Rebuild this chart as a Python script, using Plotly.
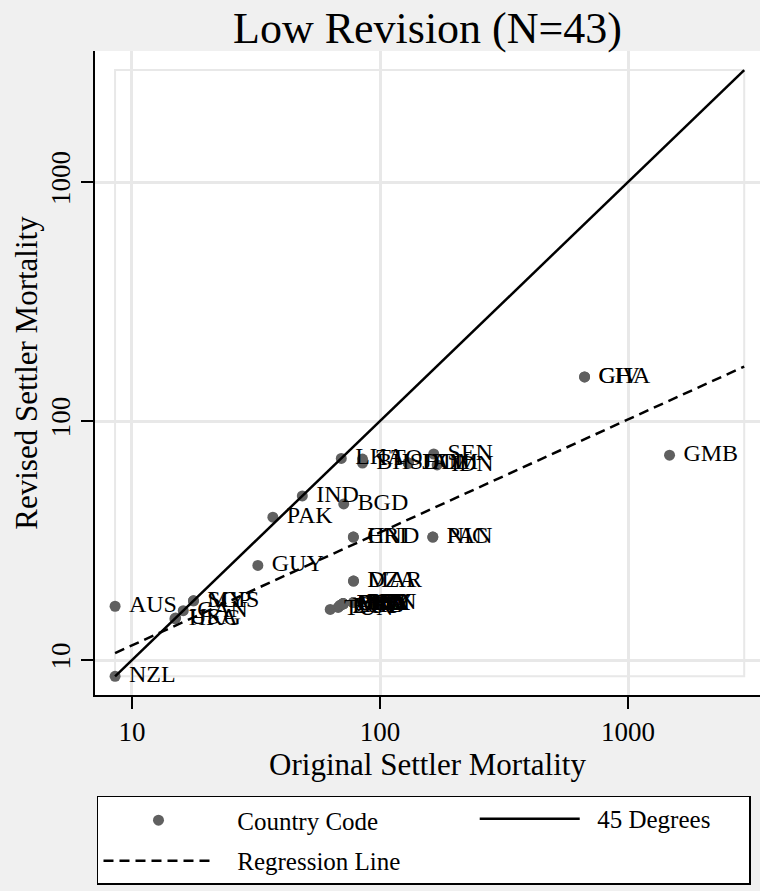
import plotly.graph_objects as go

countries = ["NZL", "AUS", "USA", "HKG", "CAN", "SGP", "MYS", "GUY", "PAK", "IND",
             "BGD", "LKA", "TTO", "BHS", "DOM", "JAM", "HTI", "SEN", "IDN", "GHA",
             "CIV", "GMB", "CRI", "HND", "PAN", "NIC", "DZA", "MAR", "TUN", "EGY",
             "ARG", "CHL", "BOL", "BRA", "COL", "ECU", "GTM", "MEX", "PER", "URY",
             "SLV", "PRY", "VEN"]
original_mortality = [8.55, 8.55, 15.0, 14.9, 16.1, 17.7, 17.7, 32.18, 36.99, 48.63,
                      71.41, 69.8, 85.0, 85.0, 130.0, 130.0, 130.0, 164.66, 170.0, 668.0,
                      668.0, 1470.0, 78.1, 78.1, 163.3, 163.3, 78.2, 78.2, 63.0, 67.8,
                      68.9, 68.9, 71.0, 71.0, 71.0, 71.0, 71.0, 71.0, 71.0, 71.0,
                      78.1, 78.1, 78.1]
revised_mortality = [8.55, 16.8, 15.0, 14.9, 16.1, 17.7, 17.7, 24.9, 39.6, 48.63,
                     45.0, 69.8, 69.3, 66.7, 66.7, 66.7, 66.7, 72.8, 65.5, 153.0,
                     153.0, 72.0, 32.7, 32.7, 32.7, 32.7, 21.4, 21.4, 16.3, 16.6,
                     16.9, 16.9, 17.2, 17.2, 17.2, 17.2, 17.2, 17.2, 17.2, 17.2,
                     17.4, 17.4, 17.4]

line45_x = [8.55, 2940]
line45_y = [8.55, 2940]
reg_x = [8.55, 2940]
reg_y = [10.7, 169.0]

tick_vals = [10, 100, 1000]
tick_text = ["10", "100", "1000"]

SERIF = "Liberation Serif, Times New Roman, serif"
NB = "\u00a0"

fig = go.Figure()
fig.add_trace(go.Scatter(
    x=original_mortality, y=revised_mortality, text=[NB + c for c in countries],
    mode="markers+text", textposition="middle right",
    marker=dict(size=11, color="#606060"),
    textfont=dict(family=SERIF, size=24, color="black"),
    name=NB * 3 + "Country Code", legend="legend", legendgroup="g1"))
fig.add_trace(go.Scatter(
    x=line45_x, y=line45_y, mode="lines",
    line=dict(color="black", width=2.5),
    name=NB * 2 + "45 Degrees", legend="legend2"))
fig.add_trace(go.Scatter(
    x=reg_x, y=reg_y, mode="lines",
    line=dict(color="black", width=2.5, dash="10px,6px"),
    name=NB * 3 + "Regression Line" + NB * 55, legend="legend", legendgroup="g2"))

fig.add_shape(type="rect", xref="x", yref="y", x0=8.55, x1=2940, y0=8.55, y1=2940,
              line=dict(color="#e8e8e8", width=2), layer="below")

axis_common = dict(
    type="log", tickvals=tick_vals, ticktext=tick_text, automargin=False,
    showgrid=True, gridcolor="#e8e8e8", gridwidth=2.5,
    showline=True, linecolor="black", linewidth=1.5,
    ticks="outside", ticklen=12, tickcolor="black", tickwidth=1.5,
    zeroline=False, tickfont=dict(family=SERIF, size=27, color="black"),
)

legend_font = dict(family=SERIF, size=25, color="black")

fig.update_layout(
    width=760, height=891,
    margin=dict(l=95, r=0, t=51, b=196),
    paper_bgcolor="#f0f0f0", plot_bgcolor="white",
    title=dict(text="Low Revision (N=43)", x=0.5, xref="paper", y=0.969, yref="container",
               xanchor="center", yanchor="middle",
               font=dict(family=SERIF, size=44, color="black")),
    xaxis=dict(axis_common, range=[0.851, 3.532],
               title=dict(text="Original Settler Mortality", standoff=0,
                          font=dict(family=SERIF, size=31, color="black"))),
    yaxis=dict(axis_common, range=[0.854, 3.548], tickangle=-90,
               title=dict(text="Revised Settler Mortality", standoff=0,
                          font=dict(family=SERIF, size=31, color="black"))),
    showlegend=True,
    legend=dict(orientation="v", x=0.003, y=-0.1568, xanchor="left", yanchor="top",
                traceorder="grouped", tracegroupgap=5,
                bgcolor="white", bordercolor="black", borderwidth=1.5,
                itemwidth=110, font=legend_font),
    legend2=dict(orientation="v", x=0.571, y=-0.1568, xanchor="left", yanchor="top",
                 bgcolor="rgba(0,0,0,0)", borderwidth=0,
                 itemwidth=100, font=legend_font),
)

fig.write_html("out.html", config={"displayModeBar": False},
               post_script="document.body.style.margin='0';")
